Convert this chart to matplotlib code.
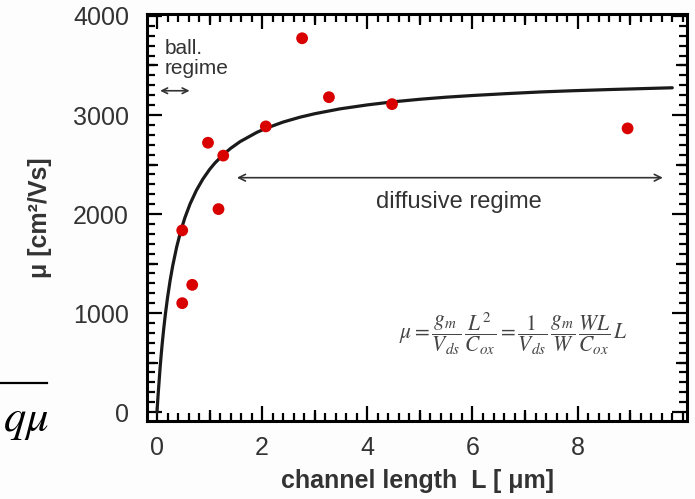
import matplotlib
matplotlib.use("Agg")
import matplotlib.pyplot as plt
from matplotlib.ticker import MultipleLocator, NullLocator

plt.rcParams["font.family"] = ["Liberation Sans", "DejaVu Sans"]
plt.rcParams["mathtext.fontset"] = "stix"

L_meas = [0.48, 0.67, 0.48, 1.17, 0.97, 1.26, 2.07, 2.76, 3.27, 4.47, 8.95]
mu_meas = [1100, 1285, 1835, 2050, 2720, 2590, 2885, 3775, 3180, 3110, 2865]

# fitted curve, points
L_fit = [0, 0.02, 0.04, 0.06, 0.08, 0.1, 0.13, 0.16, 0.2, 0.25, 0.3, 0.375,
         0.45, 0.53, 0.63, 0.75, 0.87, 1.0, 1.1, 1.26, 1.4, 1.58, 1.9, 2.08,
         2.4, 2.72, 3.0, 3.48, 4.0, 4.47, 5.0, 5.5, 6.0, 6.65, 7.3, 7.9, 8.6, 9.8]
mu_fit = [0, 166, 309, 454, 579, 696, 851, 990, 1154, 1330, 1480, 1669,
          1824, 1962, 2103, 2240, 2351, 2450, 2514, 2600, 2663, 2731, 2825, 2867,
          2929, 2978, 3013, 3062, 3102, 3132, 3159, 3180, 3197, 3216, 3233, 3245, 3257, 3275]

x_ticks = [0, 2, 4, 6, 8]
y_ticks = [0, 1000, 2000, 3000, 4000]
x_mid = [1, 3, 5, 7, 9]
y_mid = [500, 1500, 2500, 3500]

TXT = "#333333"
XLIM = (-0.19, 10.08)
YLIM = (-90, 4020)

fig = plt.figure(figsize=(6.95, 4.99), dpi=100, facecolor="#fdfdfd")
rect = [147 / 695, 1 - 421 / 499, 540 / 695, 407 / 499]
ax = fig.add_axes(rect)

ax.plot(L_fit, mu_fit, color="#1a1a1a", linewidth=2.3, solid_capstyle="round",
        solid_joinstyle="round", zorder=3)
ax.scatter(L_meas, mu_meas, s=72, color="#d90000", edgecolors="none", zorder=4)

ax.set_xlim(*XLIM)
ax.set_ylim(*YLIM)
ax.set_xticks(x_ticks)
ax.set_yticks(y_ticks)
ax.xaxis.set_minor_locator(MultipleLocator(0.2))
ax.yaxis.set_minor_locator(MultipleLocator(100))

for s in ax.spines.values():
    s.set_linewidth(2.2)
ax.tick_params(which="both", direction="in", top=True, right=True, width=1.6, color="black")
ax.tick_params(which="major", length=11, labelsize=18, labelcolor=TXT)
ax.tick_params(which="minor", length=5.5)
ax.tick_params(axis="y", which="major", pad=13)
ax.tick_params(axis="x", which="major", pad=11)

ax.set_xlabel("channel length  L [ μm]", fontsize=18, fontweight="bold", color=TXT, labelpad=6)
ax.set_ylabel("μ [cm²/Vs]", fontsize=18, fontweight="bold", color=TXT, labelpad=15)

# overlay axes just for the medium-length ticks
mid = fig.add_axes(rect, frameon=False)
mid.patch.set_visible(False)
mid.set_xlim(*XLIM)
mid.set_ylim(*YLIM)
mid.set_xticks(x_mid)
mid.set_yticks(y_mid)
mid.xaxis.set_minor_locator(NullLocator())
mid.yaxis.set_minor_locator(NullLocator())
mid.tick_params(which="major", direction="in", top=True, right=True, length=8, width=1.6,
                labelbottom=False, labelleft=False)

# regime annotations
ax.text(0.15, 3570, "ball.\nregime", fontsize=15, color=TXT, va="center", ha="left",
        linespacing=1.1)
ax.annotate("", xy=(0.06, 3245), xytext=(0.62, 3245),
            arrowprops=dict(arrowstyle="<->", color=TXT, lw=1.2, shrinkA=0, shrinkB=0))
ax.annotate("", xy=(1.52, 2367), xytext=(9.62, 2367),
            arrowprops=dict(arrowstyle="<->", color=TXT, lw=1.2, shrinkA=0, shrinkB=0,
                            mutation_scale=12))
ax.text(5.75, 2120, "diffusive regime", fontsize=17, color=TXT, ha="center", va="center")

ax.text(6.77, 790,
        r"$\mu=\dfrac{g_m}{V_{ds}}\,\dfrac{L^2}{C_{ox}}=\dfrac{\mathit{1}}{V_{ds}}\,"
        r"\dfrac{g_m}{W}\,\dfrac{WL}{C_{ox}}\,L$",
        fontsize=15.5, color="#444444", ha="center", va="center")

# fragment of neighbouring slide at the left edge
fig.add_artist(plt.Line2D([0, 47 / 695], [1 - 383 / 499, 1 - 383 / 499], color="black", lw=1.6))
fig.text(3 / 695, 1 - 422 / 499, r"$q\mu$", fontsize=32, ha="left", va="center", color="black")

fig.savefig("out.png", dpi=100, facecolor=fig.get_facecolor())
